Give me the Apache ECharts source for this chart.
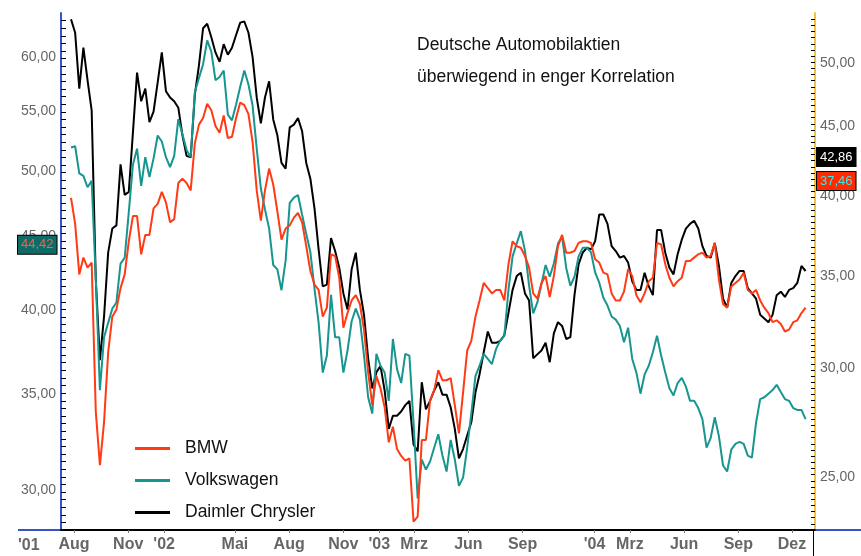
<!DOCTYPE html>
<html lang="de">
<head>
<meta charset="UTF-8">
<title>Deutsche Automobilaktien</title>
<script src="https://cdn.jsdelivr.net/npm/echarts@6/dist/echarts.min.js"></script>
<style>
  html, body { margin: 0; padding: 0; background: #fff; }
  #main { width: 861px; height: 556px; }
</style>
</head>
<body>
<div id="main"></div>
<script>
// Wochenschlusskurse in Euro, erste Woche 27.07.2001
var firstWeek = [2001, 7, 27];
var weekCount = 179;

// BMW und DaimlerChrysler: rechte Achse, Volkswagen: linke Achse
var bmw = [
  39.9,38.2,35.1,36.1,35.5,35.8,27.9,25.5,27.4,30.8,
  32.7,33.1,34.3,35.1,37.1,38.7,38.7,36.3,37.5,37.5,
  39.2,39.5,40.3,39.6,38.3,38.5,40.9,41.2,40.9,40.4,
  43.7,45.1,45.6,46.7,46.2,45.0,44.5,45.8,44.1,44.2,
  45.6,46.8,46.6,45.9,43.8,40.4,38.4,40.4,41.9,40.8,
  39.0,37.2,37.9,38.1,38.6,38.9,38.3,36.8,35.3,34.5,
  34.2,32.7,33.2,36.3,36.2,34.9,32.1,32.9,33.6,33.9,
  33.4,32.0,29.8,28.2,29.6,29.0,28.1,26.5,27.2,26.2,
  25.9,25.7,25.8,23.2,23.4,26.6,26.6,28.4,28.9,29.9,
  29.4,29.4,29.5,28.2,26.9,28.8,30.9,31.4,32.7,33.6,
  34.6,34.3,34.0,34.2,34.2,33.6,35.7,37.1,36.8,36.7,
  36.2,35.5,34.0,33.7,34.6,35.0,33.8,35.0,36.8,37.5,
  36.4,36.4,36.5,37.0,37.1,37.1,37.0,36.0,35.8,35.2,
  35.1,34.0,33.6,33.6,34.1,35.4,35.0,33.9,33.5,34.0,
  34.7,34.9,37.0,36.9,35.7,34.9,34.4,34.7,34.9,35.9,
  35.9,36.1,36.3,36.4,36.1,36.2,37.0,34.8,33.4,33.2,
  34.4,34.6,34.8,35.2,34.2,34.0,34.2,33.6,33.2,32.9,
  32.4,32.5,32.3,31.9,32.0,32.4,32.5,32.9,33.2
];

var volkswagen = [
  51.9,52.0,49.8,49.6,48.7,49.2,42.1,35.2,38.3,39.2,
  40.1,40.5,43.1,43.5,46.8,50.5,51.8,48.8,51.1,49.5,
  51.0,52.9,52.4,51.1,50.3,51.2,54.3,53.0,51.7,51.1,
  56.7,58.0,59.3,61.6,60.5,57.8,58.1,58.7,54.7,54.2,
  55.6,57.2,58.7,57.4,55.5,51.8,48.6,47.0,45.6,43.0,
  42.7,41.3,43.3,47.5,47.9,48.1,46.6,45.2,43.9,41.4,
  39.2,36.2,37.2,41.0,38.3,38.3,36.2,37.5,39.3,40.1,
  39.4,37.2,34.8,33.9,37.3,36.6,36.2,34.6,38.2,36.4,
  35.6,37.3,37.2,33.4,29.6,31.5,31.0,31.4,32.1,32.8,
  31.7,30.9,32.5,31.5,30.2,30.6,32.1,33.9,36.0,36.6,
  37.3,37.0,36.7,37.6,38.1,38.4,41.3,43.6,44.5,45.4,
  44.0,41.6,39.8,40.5,41.7,43.0,42.2,43.1,44.5,45.0,
  42.8,41.6,42.2,43.6,44.2,44.2,43.9,42.5,41.8,40.8,
  40.3,39.6,39.4,39.0,38.0,38.9,37.0,36.2,35.0,36.1,
  36.6,37.4,38.4,37.2,36.2,35.3,34.9,35.6,35.9,35.4,
  34.6,34.6,34.2,33.6,32.1,32.6,33.7,32.7,31.2,30.9,
  32.0,32.3,32.4,32.3,31.7,31.6,33.4,34.7,34.8,35.0,
  35.2,35.5,35.1,34.7,34.6,34.2,34.1,34.1,33.6
];

var daimler = [
  53.8,52.6,47.9,51.3,48.6,46.2,34.8,30.4,32.7,36.4,
  37.9,38.1,42.2,40.1,40.3,44.5,49.2,46.9,47.9,45.3,
  46.1,48.4,50.9,47.7,47.2,46.9,46.4,44.3,42.8,42.7,
  47.4,49.8,53.0,53.4,52.2,50.9,50.1,51.6,50.7,51.3,
  52.4,53.5,53.6,52.6,50.5,47.2,45.2,47.2,48.5,45.5,
  44.3,42.3,41.9,44.9,45.1,45.6,44.6,42.3,41.2,39.2,
  36.6,34.4,34.5,37.3,36.5,35.5,34.0,33.1,35.4,36.4,
  34.2,32.8,30.5,29.0,29.8,30.1,28.9,27.1,27.7,27.7,
  27.9,28.2,28.4,26.4,26.1,29.3,28.0,28.4,28.9,29.3,
  28.7,28.7,28.1,27.1,25.8,26.2,26.8,27.4,28.8,29.7,
  30.8,31.9,31.3,31.3,31.4,31.7,32.9,34.2,35.0,35.2,
  34.0,33.6,30.5,30.7,30.9,31.3,30.3,31.8,32.4,32.2,
  31.5,31.6,33.9,35.7,36.4,36.7,36.6,37.1,38.8,38.8,
  38.2,36.8,36.5,36.1,36.2,35.8,34.7,34.2,34.2,35.2,
  34.4,33.9,37.8,37.8,36.4,35.5,35.1,36.3,37.2,37.9,
  38.2,38.4,37.9,36.8,36.2,36.1,37.0,35.6,33.7,33.2,
  34.6,35.0,35.3,35.3,34.3,34.0,33.7,32.8,32.6,32.4,
  32.8,33.9,34.1,33.8,34.2,34.3,34.6,35.6,35.3
];

var leftTicks = [30, 35, 40, 45, 50, 55, 60];
var rightTicks = [25, 30, 35, 40, 45, 50];
var monthTicks = ['2001-08-01','2001-11-01','2002-01-01','2002-05-01','2002-08-01','2002-11-01',
                  '2003-01-01','2003-03-01','2003-06-01','2003-09-01','2004-01-01','2004-03-01',
                  '2004-06-01','2004-09-01','2004-12-01'];
var monthNames = ['Aug','Nov',"'02",'Mai','Aug','Nov',"'03",'Mrz','Jun','Sep',"'04",'Mrz','Jun','Sep','Dez'];

// Kursmarken an den Achsen
var markVw = 44.42, markDc = 42.86, markBmw = 37.46;

var FONT = '"Liberation Sans", Arial, sans-serif';

function day(s) {
  var p = s.split('-');
  return new Date(+p[0], +p[1] - 1, +p[2]).getTime();
}
function fmt(v) { return v.toFixed(2).replace('.', ','); }

var weeks = [];
for (var i = 0; i < weekCount; i++) {
  weeks.push(new Date(firstWeek[0], firstWeek[1] - 1, firstWeek[2] + 7 * i).getTime());
}
function pairs(arr) { return weeks.map(function (t, i) { return [t, arr[i]]; }); }

var tickTimes = monthTicks.map(day);
function monthName(v) {
  for (var k = 0; k < tickTimes.length; k++) {
    if (Math.abs(tickTimes[k] - v) < 3600000) return monthNames[k];
  }
  return '';
}

// kleine Teilstriche in gleichen Abstaenden auf der log-Skala
function logSteps(min, max, n) {
  var out = [], f = Math.pow(max / min, 1 / n);
  for (var k = 1; k < n; k++) out.push(min * Math.pow(f, k));
  return out;
}

var leftMin = 28.14, leftMax = 64.36;
var rightMin = 22.88, rightMax = 54.37;

var chart = echarts.init(document.getElementById('main'));
chart.setOption({
  animation: false,
  backgroundColor: '#fff',
  title: {
    text: 'Deutsche Automobilaktien\nüberwiegend in enger Korrelation',
    left: 417, top: 29, padding: 0,
    textStyle: { fontSize: 17.5, fontWeight: 'normal', color: '#111', lineHeight: 32, fontFamily: FONT }
  },
  legend: {
    orient: 'vertical', left: 135, top: 439, padding: 0,
    data: ['BMW', 'Volkswagen', 'Daimler Chrysler'],
    icon: 'rect', itemWidth: 35, itemHeight: 3, itemGap: 13,
    textStyle: { fontSize: 17.5, color: '#111', fontFamily: FONT, lineHeight: 19, padding: [0, 0, 0, 10] }
  },
  grid: { left: 61, right: 46, top: 13, bottom: 26 },
  xAxis: {
    type: 'value',
    min: day('2001-07-10'), max: day('2005-01-09'),
    axisLine: { lineStyle: { color: '#000', width: 2 } },
    axisTick: { customValues: tickTimes, length: 3, lineStyle: { color: '#777' } },
    axisLabel: {
      customValues: tickTimes, margin: 7,
      color: '#666', fontSize: 16, fontWeight: 'bold', fontFamily: FONT,
      formatter: monthName
    },
    splitLine: { show: false }
  },
  yAxis: [
    {
      type: 'log', position: 'left', min: leftMin, max: leftMax,
      axisLine: { show: true, lineStyle: { color: '#3454c8', width: 2 } },
      axisTick: { show: true, inside: true, length: 5, customValues: logSteps(leftMin, leftMax, 68),
                  lineStyle: { color: '#000', width: 1 } },
      axisLabel: { customValues: leftTicks, margin: 5, color: '#666', fontSize: 14, fontFamily: FONT, formatter: fmt },
      splitLine: { show: false }
    },
    {
      type: 'log', position: 'right', min: rightMin, max: rightMax,
      axisLine: { show: true, lineStyle: { color: '#f2c23a', width: 2 } },
      axisTick: { show: true, inside: true, length: 4, customValues: logSteps(rightMin, rightMax, 84),
                  lineStyle: { color: '#000', width: 1 } },
      axisLabel: { customValues: rightTicks, margin: 5, color: '#666', fontSize: 14, fontFamily: FONT, formatter: fmt },
      splitLine: { show: false }
    }
  ],
  series: [
    { name: 'Daimler Chrysler', type: 'line', yAxisIndex: 1, data: pairs(daimler), showSymbol: false,
      lineStyle: { color: '#000', width: 2 }, itemStyle: { color: '#000' }, z: 2 },
    { name: 'Volkswagen', type: 'line', yAxisIndex: 0, data: pairs(volkswagen), showSymbol: false,
      lineStyle: { color: '#17958f', width: 2 }, itemStyle: { color: '#17958f' }, z: 3 },
    { name: 'BMW', type: 'line', yAxisIndex: 1, data: pairs(bmw), showSymbol: false,
      lineStyle: { color: '#ff3a14', width: 2 }, itemStyle: { color: '#ff3a14' }, z: 4 }
  ]
});

var yVw = chart.convertToPixel({ yAxisIndex: 0 }, markVw);
var yDc = chart.convertToPixel({ yAxisIndex: 1 }, markDc);

function box(id, x, y, text, fill, bg) {
  return {
    type: 'text', id: id, x: x, y: y, z: 100,
    style: {
      text: text, fill: fill, backgroundColor: bg, borderColor: '#000', borderWidth: 1,
      padding: [3, 3, 2, 3], font: '13px ' + FONT, verticalAlign: 'middle'
    }
  };
}

chart.setOption({
  graphic: [
    { type: 'text', id: 'y01', x: 18, y: 538, style: { text: "'01", fill: '#666', font: 'bold 16px ' + FONT } },
    { type: 'line', id: 'bl', shape: { x1: 18, y1: 530, x2: 61, y2: 530 }, style: { stroke: '#3454c8', lineWidth: 2 } },
    { type: 'line', id: 'br', shape: { x1: 815, y1: 530, x2: 861, y2: 530 }, style: { stroke: '#3454c8', lineWidth: 2 } },
    { type: 'line', id: 'vr', shape: { x1: 813.5, y1: 531, x2: 813.5, y2: 556 }, style: { stroke: '#000', lineWidth: 1 } },
    box('mvw', 18, yVw, fmt(markVw), '#ff5b4d', '#0f6b66'),
    box('mdc', 817, yDc + 2, fmt(markDc), '#fff', '#000'),
    box('mbmw', 817, yDc + 26, fmt(markBmw), '#3fe6e6', '#ff2a00')
  ]
});
</script>
</body>
</html>
